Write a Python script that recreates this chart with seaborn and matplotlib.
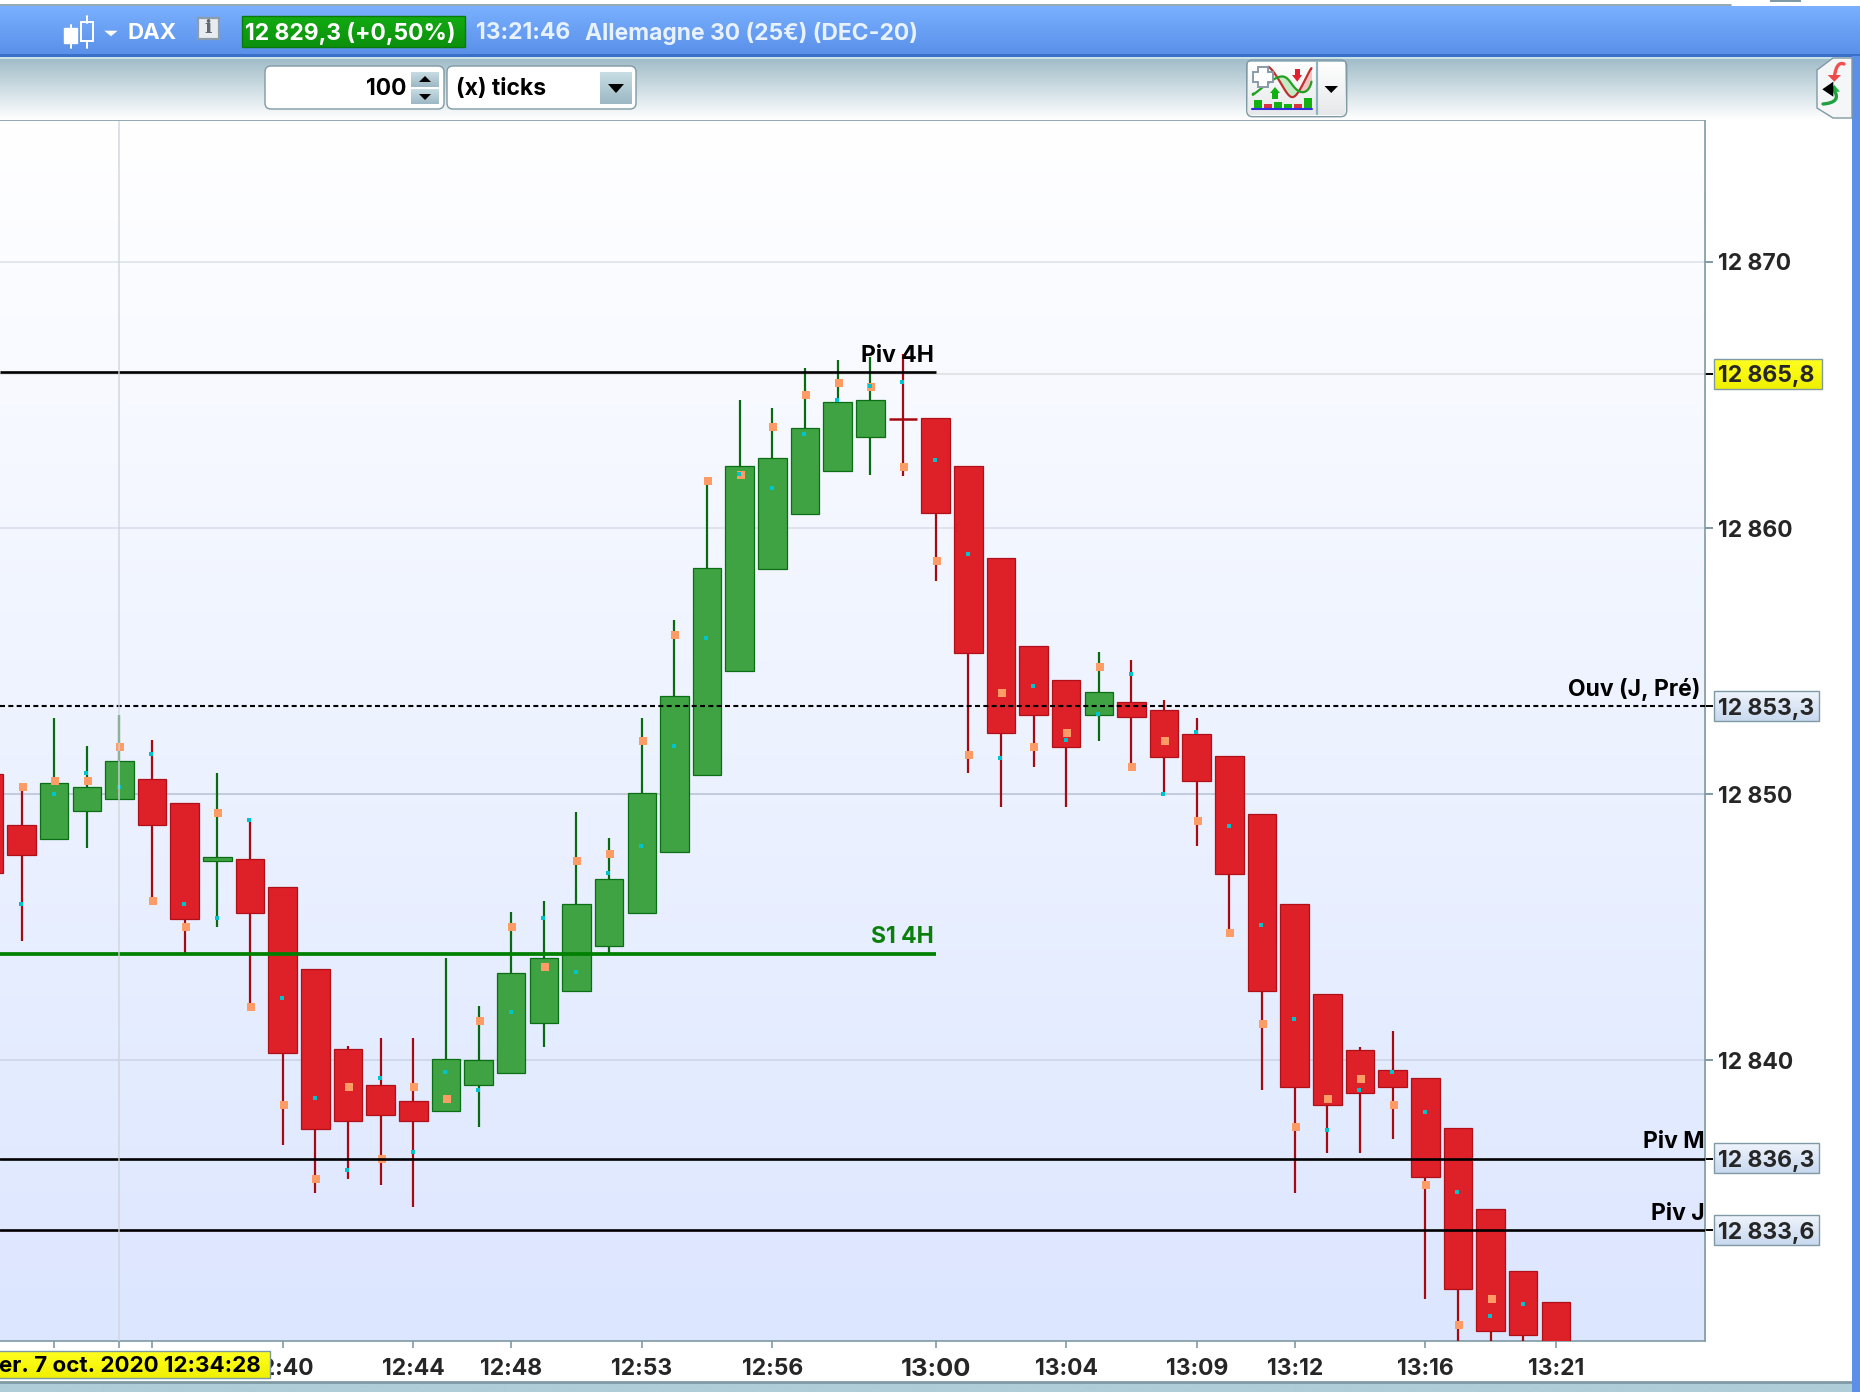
import numpy as np
import pandas as pd
import seaborn as sns
import matplotlib.pyplot as plt
from matplotlib.colors import to_rgb
from matplotlib.patches import FancyBboxPatch, Polygon, Rectangle

# candles, values (first one is cut by the left edge)
candle_idx = list(range(-1, 48))
opens = [12850.74, 12848.85, 12848.31, 12849.37, 12849.81, 12850.57, 12849.68, 12847.49, 12847.57, 12846.52,
         12843.44, 12840.43, 12839.08, 12838.47, 12838.10, 12839.07, 12839.52, 12841.40, 12842.60, 12844.27,
         12845.52, 12847.83, 12850.73, 12854.64, 12858.47, 12860.51, 12862.16, 12863.43, 12864.12, 12864.12,
         12862.32, 12858.86, 12855.55, 12854.27, 12852.98, 12853.45, 12853.15, 12852.24, 12851.42, 12849.26,
         12845.87, 12842.48, 12840.39, 12839.61, 12839.31, 12837.43, 12834.42, 12832.09, 12830.89]
closes = [12847.05, 12847.71, 12850.43, 12850.27, 12851.25, 12848.84, 12845.32, 12847.65, 12845.52, 12840.28,
          12837.41, 12837.72, 12837.94, 12837.72, 12840.05, 12839.99, 12843.29, 12843.82, 12845.85, 12846.82,
          12850.05, 12853.68, 12858.48, 12862.32, 12862.62, 12863.75, 12864.72, 12864.80, 12864.08, 12860.58,
          12855.31, 12852.31, 12852.98, 12851.78, 12853.82, 12852.91, 12851.40, 12850.50, 12847.00, 12842.58,
          12839.00, 12838.32, 12838.77, 12839.00, 12835.61, 12831.40, 12829.82, 12829.67, 12829.00]
highs = [12850.74, 12850.16, 12852.85, 12851.79, 12852.99, 12852.02, 12849.68, 12850.81, 12849.02, 12846.52,
         12843.44, 12840.52, 12840.82, 12840.82, 12843.82, 12842.02, 12845.55, 12845.99, 12849.31, 12848.33,
         12852.85, 12856.54, 12861.77, 12864.81, 12864.51, 12866.02, 12866.32, 12866.44, 12866.54, 12864.12,
         12862.32, 12858.86, 12855.55, 12854.27, 12855.34, 12855.04, 12853.53, 12852.86, 12851.42, 12849.26,
         12845.87, 12842.48, 12840.50, 12841.10, 12839.31, 12837.43, 12834.42, 12832.09, 12830.89]
lows = [12847.05, 12844.48, 12848.31, 12847.99, 12849.81, 12845.83, 12843.98, 12844.99, 12841.98, 12836.82,
        12835.01, 12835.54, 12835.32, 12834.49, 12838.10, 12837.49, 12839.52, 12840.49, 12842.60, 12843.98,
        12845.52, 12847.83, 12850.73, 12854.64, 12858.47, 12860.51, 12862.16, 12861.99, 12861.97, 12858.02,
        12850.80, 12849.52, 12851.03, 12849.52, 12852.00, 12851.03, 12850.00, 12848.06, 12844.77, 12838.87,
        12835.01, 12836.52, 12836.52, 12837.04, 12831.03, 12829.40, 12829.40, 12829.40, 12829.00]
orange_dots = [np.nan, 12850.26, 12850.48, 12850.48, 12851.76, 12845.98, 12844.99, 12849.28, 12841.99, 12838.31,
               12835.52, 12838.98, 12836.29, 12838.98, 12838.54, 12841.46, 12844.99, 12843.49, 12847.48, 12847.73,
               12851.99, 12855.98, 12861.77, 12861.99, 12863.80, 12865.00, 12865.45, 12865.30, 12862.29, 12858.76,
               12851.47, 12853.80, 12851.77, 12852.29, 12854.77, 12851.01, 12851.99, 12848.98, 12844.77, 12841.37,
               12837.48, 12838.53, 12839.29, 12838.31, 12835.30, 12830.04, 12831.02, np.nan, np.nan]
teal_dots = [np.nan, 12845.86, 12849.99, 12850.81, 12850.28, 12851.49, 12845.86, 12845.33, 12849.02, 12842.33,
             12838.58, 12835.86, 12839.33, 12836.55, 12839.56, 12838.87, 12841.81, 12845.33, 12843.31, 12847.02,
             12848.03, 12851.80, 12855.88, 12862.03, 12861.52, 12863.53, 12864.81, 12865.34, 12865.49, 12862.56,
             12859.02, 12851.35, 12854.06, 12852.03, 12853.01, 12854.51, 12850.00, 12852.33, 12848.80, 12845.07,
             12841.54, 12837.37, 12838.88, 12839.55, 12838.05, 12835.04, 12830.38, 12830.83, np.nan]

# last candle before the red run has a doji drawn red
doji_red = [27]

x_tick_pos = [1, 3, 4, 8, 12, 15, 19, 23, 28, 32, 36, 39, 43, 47]
x_tick_labels = ['', '', '', '12:40', '12:44', '12:48', '12:53', '12:56', '13:00', '13:04', '13:09', '13:12', '13:16', '13:21']
y_ticks = [12840, 12850, 12860, 12870]
y_tick_labels = ['12 840', '12 850', '12 860', '12 870']
level_ticks = [12865.8, 12853.3, 12836.3, 12833.6]
level_labels = ['12 865,8', '12 853,3', '12 836,3', '12 833,6']
piv_4h = 12865.86
s1_4h = 12844.0
ouv_j = 12853.3
piv_m = 12836.3
piv_j = 12833.6
crosshair = 3

FONT = 'Inter'
SLATE = '#7f9aa5'
GREEN_FILL, GREEN_EDGE, GREEN_WICK = '#3fa343', '#0a6e14', '#0a6a0f'
RED_FILL, RED_EDGE, RED_WICK = '#de2029', '#b01018', '#a50a10'
FS = 16.5

sns.set_style('white')
plt.rcParams['font.family'] = [FONT, 'DejaVu Sans']
plt.rcParams['font.weight'] = 'bold'

W, H = 1860, 1392
XLIM = (-0.66, 51.57)
YLIM = (12829.44, 12875.3)
fig = plt.figure(figsize=(W / 100, H / 100), dpi=100, facecolor='white')


def pixel_axes(z):
    a = fig.add_axes([0, 0, 1, 1], zorder=z)
    a.set_xlim(0, W)
    a.set_ylim(H, 0)
    a.axis('off')
    return a


def vgrad(a, x0, x1, y0, y1, top, bottom, z=1):
    t = np.linspace(0, 1, 128)[:, None, None]
    img = (1 - t) * np.array(to_rgb(top)) + t * np.array(to_rgb(bottom))
    a.imshow(img, extent=(x0, x1, y1, y0), aspect='auto', zorder=z, interpolation='bilinear')
    a.set_xlim(0, W)
    a.set_ylim(H, 0)


def tri(a, x0, x1, y0, y1, up=False, color='black', z=5):
    if up:
        pts = [(x0, y1), (x1, y1), ((x0 + x1) / 2, y0)]
    else:
        pts = [(x0, y0), (x1, y0), ((x0 + x1) / 2, y1)]
    a.add_patch(Polygon(pts, closed=True, fc=color, ec='none', zorder=z))


def rbox(a, x0, x1, y0, y1, fc, ec=SLATE, r=6, z=3):
    a.add_patch(FancyBboxPatch((x0 + r, y0 + r), x1 - x0 - 2 * r, y1 - y0 - 2 * r,
                               boxstyle=f'round,pad={r}', fc=fc, ec=ec, lw=1, zorder=z))


def smooth(px, py, n=60):
    # icon curves only
    u = np.linspace(0, 1, len(px))
    uu = np.linspace(0, 1, n)
    deg = min(len(px) - 1, 5)
    return np.polyval(np.polyfit(u, px, deg), uu), np.polyval(np.polyfit(u, py, deg), uu)


# window chrome behind the chart
bg = pixel_axes(0)
bg.plot([0, 1731], [5, 5], color=SLATE, lw=1.2)
bg.add_patch(Rectangle((1770, 0), 31, 1.5, fc=SLATE, ec='none'))
vgrad(bg, 0, W, 6, 54, '#7ab0ff', '#5a90e8')
bg.add_patch(Rectangle((0, 54), W, 2.5, fc='#3a70c8', ec='none', zorder=2))
bg.add_patch(Rectangle((0, 56.5), W, 2, fc='#c8e2ea', ec='none', zorder=2))
vgrad(bg, 0, W, 58, 120, '#a0bcc8', '#ffffff')
bg.plot([0, 1705], [120.5, 120.5], color=SLATE, lw=1.2, zorder=3)
vgrad(bg, 0, W, 1383, H, '#aecdd8', '#aecdd8')
bg.plot([0, 1852], [1381.5, 1381.5], color=SLATE, lw=2, zorder=3)
bg.add_patch(Rectangle((1852, 56), 8, H - 56, fc='#5b8fe8', ec='none', zorder=4))

# header: candle icon, DAX, quote
bg.plot([70.7, 70.7], [24.7, 48], color='white', lw=1.4, zorder=5)
bg.add_patch(Rectangle((64, 28), 13.3, 15, fc='white', ec='white', zorder=5))
bg.plot([87, 87], [16, 23], color='white', lw=1.4, zorder=5)
bg.plot([87, 87], [41, 48], color='white', lw=1.4, zorder=5)
bg.add_patch(Rectangle((81, 22), 12, 19, fc='none', ec='white', lw=1.4, zorder=5))
tri(bg, 104.3, 117.7, 30.7, 36.3, color='white')
bg.text(127, 33.2, 'DAX', color='white', fontsize=FS - 0.5, va='center', zorder=5)
bg.add_patch(Rectangle((197.5, 17.5), 21, 21.5, fc='#e8ecf0', ec='#8c9ca8', lw=1.6, zorder=5))
bg.text(208, 28, 'i', color='#606870', fontsize=14, family='DejaVu Serif', ha='center', va='center', zorder=6)
vgrad(bg, 242, 465, 16, 47, '#12ab12', '#0c900c', z=5)
bg.add_patch(Rectangle((242, 16), 223, 31, fc='none', ec='#0a7a0a', lw=1, zorder=6))
bg.text(245, 33.2, '12 829,3 (+0,50%)', color='white', fontsize=FS, va='center', zorder=7)
bg.text(476, 33.2, '13:21:46', color='#e8f2ff', fontsize=FS, va='center', zorder=5)
bg.text(585, 33.2, 'Allemagne 30 (25€) (DEC-20)', color='#e8f2ff', fontsize=FS, va='center', zorder=5)

# toolbar: spinner and combo
rbox(bg, 265, 444, 66, 109, 'white')
rbox(bg, 447, 636, 66, 109, 'white')
bg.text(406, 89.2, '100', color='black', fontsize=FS, ha='right', va='center', zorder=5)
bg.text(456, 89.2, '(x) ticks', color='black', fontsize=FS, va='center', zorder=5)
vgrad(bg, 411, 439, 72, 87, '#c8dde4', '#9cb8c4', z=4)
vgrad(bg, 411, 439, 89, 104, '#c8dde4', '#9cb8c4', z=4)
tri(bg, 419, 431, 76, 82, up=True)
tri(bg, 419, 431, 94, 100)
vgrad(bg, 600, 632, 72, 104, '#c8dde4', '#9cb8c4', z=4)
tri(bg, 608, 624, 84, 93)

# indicator button
vgrad(bg, 1248, 1345, 62, 115, '#ffffff', '#e6e8ea', z=3)
rbox(bg, 1246.7, 1346.7, 60, 116.7, 'none', z=4)
bg.plot([1316.7, 1316.7], [62, 114], color='#8fb2c2', lw=1.6, zorder=5)
tri(bg, 1324.5, 1338, 86, 93)
bar_x = [1254, 1264, 1274, 1284, 1294, 1304]
bar_top = [100, 104.3, 102.3, 104.3, 104.3, 98.3]
bar_col = ['#10b010', '#d83040', '#10b010', '#10b010', '#d83040', '#10b010']
for bx, bt, bc in zip(bar_x, bar_top, bar_col):
    bg.add_patch(Rectangle((bx, bt), 7.7, 108 - bt, fc=bc, ec='none', zorder=5))
bg.plot([1252, 1312], [108.5, 108.5], color='#3030e0', lw=1.5, zorder=6)
gx, gy = smooth([1253.5, 1263, 1280, 1290, 1300, 1311.5], [93.5, 87, 76.7, 81.7, 91.7, 81.7])
rx, ry = smooth([1268, 1273, 1283, 1290, 1298, 1306, 1311.5], [68, 72, 85, 98.3, 91.7, 78.3, 68.3])
bg.fill_between(gx, gy, np.interp(gx, rx, ry), where=(gx > 1277) & (gx < 1297), color='#c4ecc4', lw=0, zorder=4.5)
bg.fill_between(gx, gy, np.interp(gx, rx, ry), where=gx > 1297, color='#f4c4c0', lw=0, zorder=4.5)
bg.plot(rx, ry, color='#c03030', lw=1.6, zorder=5)
bg.plot(gx, gy, color='#20a020', lw=1.6, zorder=5.5)
bg.add_patch(Polygon([(1252.7, 72), (1258, 72), (1258, 66.7), (1268, 66.7), (1268, 72), (1273, 72), (1273, 82),
                      (1268, 82), (1268, 87), (1258, 87), (1258, 82), (1252.7, 82)],
                     fc='white', ec='#8a9aa8', lw=1.4, zorder=7))
bg.add_patch(Polygon([(1270, 93), (1280, 93), (1275, 87)], fc='#10b010', ec='none', zorder=7))
bg.add_patch(Rectangle((1272.3, 93), 5.3, 5.5, fc='#10b010', ec='none', zorder=7))
bg.add_patch(Polygon([(1292, 75), (1302, 75), (1297.3, 81.7)], fc='#e02030', ec='none', zorder=7))
bg.add_patch(Rectangle((1295, 69), 5, 6, fc='#e02030', ec='none', zorder=7))

# collapse tab on the right
bg.add_patch(Polygon([(1852, 58), (1833, 58), (1817, 70), (1817, 108), (1833, 118), (1852, 118)],
                     fc='#f4f6f8', ec=SLATE, lw=1, zorder=4))
bx1, by1 = smooth([1844, 1838, 1834.5], [64, 65.5, 76], 30)
bg.plot(bx1, by1, color='#f05050', lw=2.4, zorder=5)
bg.add_patch(Polygon([(1827.7, 75), (1841, 75), (1834.3, 81.7)], fc='#f04848', ec='none', zorder=5))
bx2, by2 = smooth([1834.5, 1835, 1823], [91, 100, 104], 30)
bg.plot(bx2, by2, color='#20a040', lw=2.4, zorder=5)
bg.add_patch(Polygon([(1828.3, 91.7), (1840, 91.7), (1834.3, 85)], fc='#20b040', ec='none', zorder=5))
bg.add_patch(Polygon([(1822.3, 89.3), (1833.3, 81.7), (1833.3, 96.7)], fc='black', ec='none', zorder=6))

# boxes behind the level labels
for lv, fill in zip([374, 706, 1158, 1230], ['y', 'b', 'b', 'b']):
    if fill == 'y':
        vgrad(bg, 1714, 1822, lv - 15, lv + 15, '#ffff20', '#f0f000', z=3)
    else:
        vgrad(bg, 1714, 1819, lv - 15, lv + 15, '#f0f5fc', '#c8d8ee', z=3)
    bg.add_patch(Rectangle((1714, lv - 15), 108 if fill == 'y' else 105, 30, fc='none', ec=SLATE, lw=1, zorder=4))

# main chart
ax = fig.add_axes([0, 1 - 1341 / H, 1705 / W, (1341 - 121) / H], zorder=1)
ax.patch.set_alpha(0)

t = np.linspace(0, 1, 256)[:, None, None]
grad = (1 - t) * np.array(to_rgb('#ffffff')) + t * np.array(to_rgb('#dce6ff'))
ax.imshow(grad, extent=(0, 1, 0, 1), transform=ax.transAxes, aspect='auto', zorder=0)
ax.set_xlim(*XLIM)
ax.set_ylim(*YLIM)

for val, col in zip([12870, 12865.8, 12860, 12850, 12840],
                    ['#dde3ea', '#e0e0e0', '#dcdfec', '#bcc4d8', '#cdd5e7']):
    ax.axhline(val, color=col, lw=1.2, zorder=1)

df = pd.DataFrame({'x': candle_idx, 'open': opens, 'close': closes, 'high': highs, 'low': lows,
                   'orange': orange_dots, 'teal': teal_dots})
df['up'] = (df['close'] > df['open']) & ~df['x'].isin(doji_red)
up = df[df['up']]
down = df[~df['up'] & ~df['x'].isin(doji_red)]

for part, fill, edge, wick in [(up, GREEN_FILL, GREEN_EDGE, GREEN_WICK), (down, RED_FILL, RED_EDGE, RED_WICK)]:
    ax.vlines(part['x'], part['low'], part['high'], color=wick, lw=1.6, zorder=3)
    ax.bar(part['x'], (part['close'] - part['open']).abs(), bottom=part[['open', 'close']].min(axis=1),
           width=0.875, color=fill, edgecolor=edge, linewidth=0.9, zorder=4)

# doji has only a thick line
doji = df[df['x'].isin(doji_red)]
ax.vlines(doji['x'], doji['low'], doji['high'], color=RED_WICK, lw=1.6, zorder=3)
ax.hlines(doji['close'], doji['x'] - 0.44, doji['x'] + 0.44, color=RED_WICK, lw=1.8, zorder=5)

sns.scatterplot(x=df['x'] + 0.03, y=df['orange'], marker='s', s=26, color='#ff9c66', linewidth=0, zorder=6, ax=ax)
sns.scatterplot(x=df['x'] - 0.02, y=df['teal'], marker='s', s=12.5, color='#00c4cc', linewidth=0, zorder=7, ax=ax)
ax.set_xlabel('')
ax.set_ylabel('')

# levels
ax.hlines(piv_4h, XLIM[0], 28, color='black', lw=1.9, zorder=8)
ax.hlines(s1_4h, XLIM[0], 28, color='#008000', lw=2.7, zorder=8)
ax.axhline(ouv_j, color='black', lw=1.5, ls=(0, (2.4, 1.6)), zorder=8)
ax.axhline(piv_m, color='black', lw=1.9, zorder=8)
ax.axhline(piv_j, color='black', lw=1.9, zorder=8)
ax.axvline(crosshair, color='#cfd3da', lw=1.3, alpha=0.75, zorder=9)


def level_text(x, y, s, color='black'):
    ax.annotate(s, (x, y), xytext=(0, 7.6), textcoords='offset points', ha='right', va='baseline',
                color=color, fontsize=FS, zorder=10, annotation_clip=False)


level_text(27.95, piv_4h, 'Piv 4H')
level_text(27.95, s1_4h, 'S1 4H', '#0a7f0a')
level_text(51.42, ouv_j, 'Ouv (J, Pré)')
level_text(51.55, piv_m, 'Piv M')
level_text(51.55, piv_j, 'Piv J')

# axes, ticks
sns.despine(ax=ax, left=True, top=True, right=False, bottom=False)
ax.spines['right'].set_color(SLATE)
ax.spines['right'].set_linewidth(1.2)
ax.spines['bottom'].set_color(SLATE)
ax.spines['bottom'].set_linewidth(1.2)

ax.yaxis.tick_right()
ax.set_yticks(y_ticks, y_tick_labels, fontsize=FS)
ax.set_yticks(level_ticks, level_labels, minor=True, fontsize=FS)
ax.tick_params(axis='y', which='major', length=5.8, width=1.4, color=SLATE, pad=3.4, right=True, left=False)
ax.tick_params(axis='y', which='minor', length=5.8, width=1.4, color='black', pad=3.4, right=True, left=False)

ax.set_xticks(x_tick_pos, x_tick_labels, fontsize=FS)
ax.tick_params(axis='x', length=5, width=1.2, color=SLATE, pad=7.5, bottom=True)
for tick, pos in zip(ax.xaxis.get_major_ticks(), x_tick_pos):
    if pos == crosshair:
        tick.tick1line.set_color('black')
    if pos == 28:
        tick.label1.set_fontsize(FS * 1.12)

# crosshair date flag sits above the x labels, its start is hidden in the source too
top = pixel_axes(2)
top.patch.set_alpha(0)
vgrad(top, -2, 270, 1351, 1378, '#ffff20', '#f0f000', z=1)
top.add_patch(Rectangle((-2, 1351), 272, 27, fc='none', ec=SLATE, lw=1, zorder=2))
top.text(261, 1366, 'er. 7 oct. 2020 12:34:28', color='black', fontsize=FS - 0.4, ha='right', va='center', zorder=3)

fig.savefig('out.png', dpi=100)
